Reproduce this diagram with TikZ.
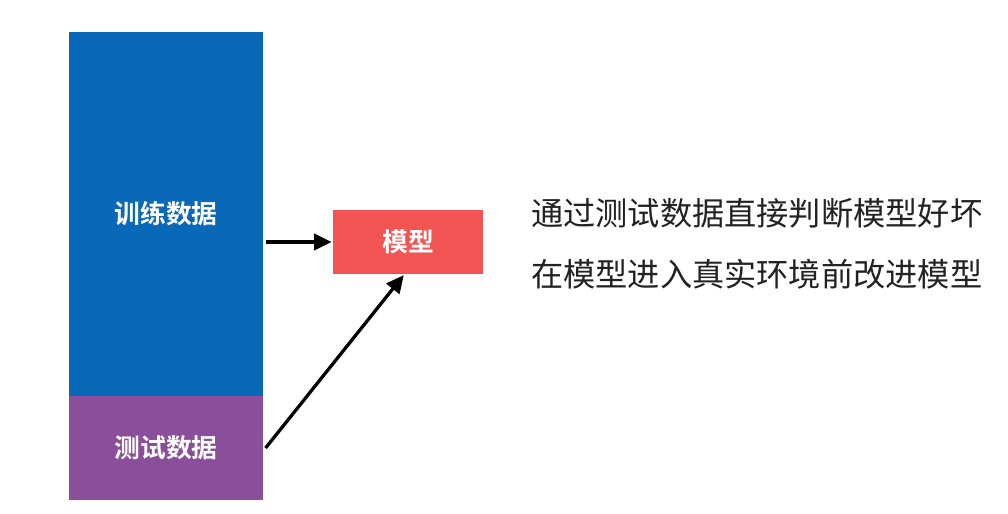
\documentclass[tikz,border=0pt]{standalone}
\usepackage{fontspec}
\setmainfont{Noto Sans CJK SC}
\newfontfamily\cjkbold{Noto Sans CJK SC Bold}
\usetikzlibrary{arrows.meta,positioning,shapes}
\definecolor{trainblue}{HTML}{0A68B8}
\definecolor{testpurple}{HTML}{8A4E9A}
\definecolor{modelred}{HTML}{F25454}
\definecolor{notegray}{HTML}{222222}

\begin{document}
\begin{tikzpicture}[x=0.03cm,y=-0.03cm]
\tikzset{block/.style={rectangle,inner sep=0pt,text=white,font=\cjkbold\fontsize{22}{26}\selectfont},
  link/.style={-{Triangle[length=15pt,width=14pt]},line width=2.8pt,shorten >=1pt}}
\useasboundingbox[fill=white] (0,0) rectangle (1008,514);
\node[block,fill=trainblue,minimum width=194*0.03cm,minimum height=364*0.03cm] (train) at (166,214) {训练数据};
\node[block,fill=testpurple,minimum width=194*0.03cm,minimum height=104*0.03cm] (test) at (166,448) {测试数据};
\node[block,fill=modelred,minimum width=150*0.03cm,minimum height=64*0.03cm] (model) at (408,242) {模型};
\node[anchor=west,inner sep=0pt,text=notegray,font=\fontsize{27.5}{32}\selectfont] (note1) at (531,213) {通过测试数据直接判断模型好坏};
\node[anchor=west,inner sep=0pt,text=notegray,font=\fontsize{27.5}{32}\selectfont] (note2) at (531,274) {在模型进入真实环境前改进模型};
\draw[link] ([xshift=2pt]train.east |- model) -- (model.west);
\draw[link] ([xshift=2pt]test.east) -- ([xshift=-3pt]model.south);
\end{tikzpicture}
\end{document}
